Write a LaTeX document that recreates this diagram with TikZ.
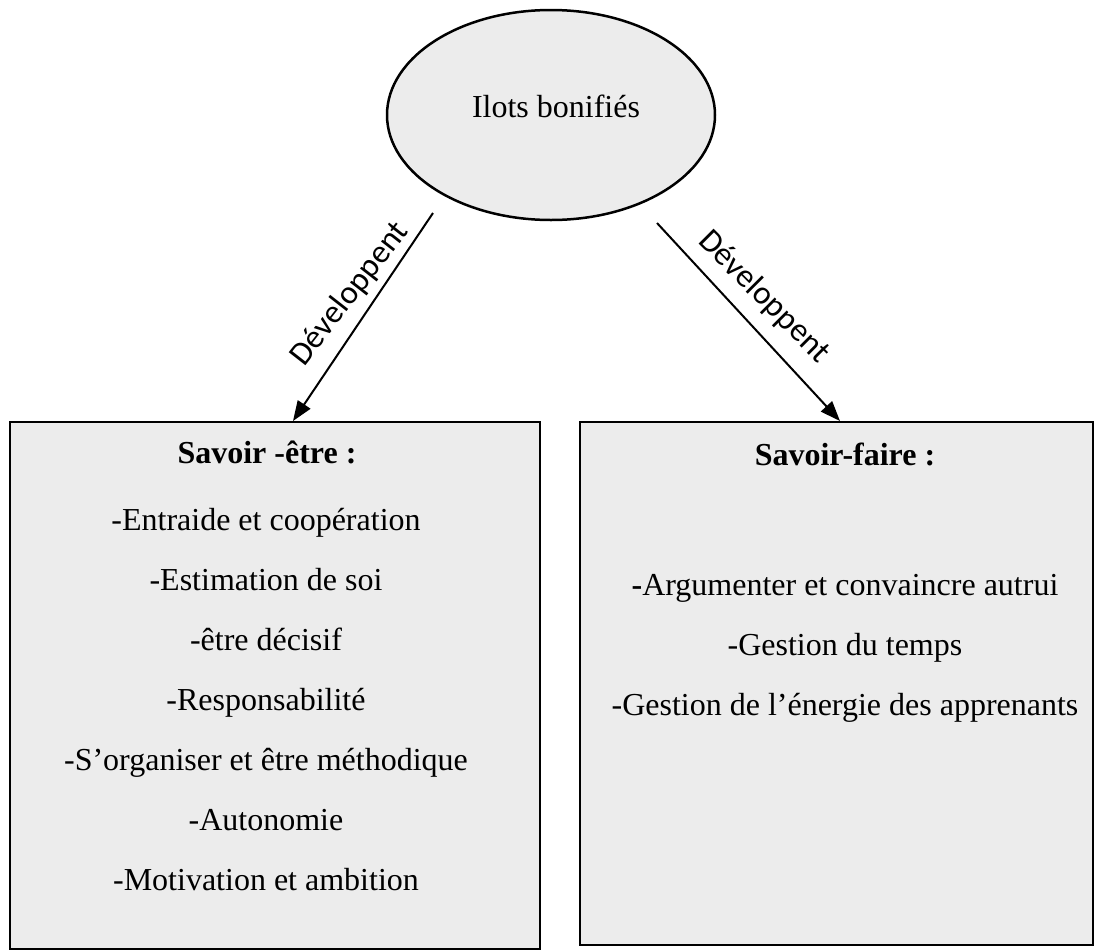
\documentclass[tikz,border=0pt]{standalone}
\usepackage{fontspec}
\setmainfont{Liberation Serif}
\newfontfamily\labelfont{Carlito}
\usetikzlibrary{arrows.meta}
\definecolor{boxfill}{RGB}{236,236,236}
\tikzset{
  shape frame/.style={draw=black, line width=2.5pt, fill=boxfill},
  item/.style={anchor=base, inner sep=0pt, font=\fontsize{32}{38}\selectfont},
  head/.style={item, font=\fontsize{32}{38}\selectfont\bfseries},
  link/.style={line width=2pt, -{Triangle[length=20pt,width=15pt]}},
  linklabel/.style={inner sep=0pt, font=\fontsize{33}{40}\selectfont\labelfont}
}
\begin{document}
\begin{tikzpicture}[x=1pt, y=-1pt]
  \useasboundingbox (0,0) rectangle (1096,951);

  % central idea
  \draw[shape frame] (551,115) ellipse [x radius=164, y radius=105];
  \node[item] (ilots) at (556,117) {Ilots bonifiés};

  % the two result boxes
  \draw[shape frame] (10,422) rectangle (540,949);
  \draw[shape frame] (580,422) rectangle (1093,945);

  \coordinate (startL) at (433,213);
  \coordinate (endL) at (293,421);
  \coordinate (startR) at (657,223);
  \coordinate (endR) at (840,421);

  \draw[link] (startL) -- (endL);
  \draw[link] (startR) -- (endR);
  \node[linklabel, rotate=52] (labL) at (350,294) {Développent};
  \node[linklabel, rotate=-45] (labR) at (764,297) {Développent};

  % savoir-être
  \node[head] (titleL) at (267,463) {Savoir -être :};
  \node[item] (l1) at (266,530) {-Entraide et coopération};
  \node[item] (l2) at (266,590) {-Estimation de soi};
  \node[item] (l3) at (266,650) {-être décisif};
  \node[item] (l4) at (266,710) {-Responsabilité};
  \node[item] (l5) at (266,770) {-S’organiser et être méthodique};
  \node[item] (l6) at (266,830) {-Autonomie};
  \node[item] (l7) at (266,890) {-Motivation et ambition};

  % savoir-faire
  \node[head] (titleR) at (845,465) {Savoir-faire :};
  \node[item] (r1) at (845,595) {{\bfseries -}Argumenter et convaincre autrui};
  \node[item] (r2) at (845,655) {-Gestion du temps};
  \node[item] (r3) at (845,715) {-Gestion de l’énergie des apprenants};
\end{tikzpicture}
\end{document}
